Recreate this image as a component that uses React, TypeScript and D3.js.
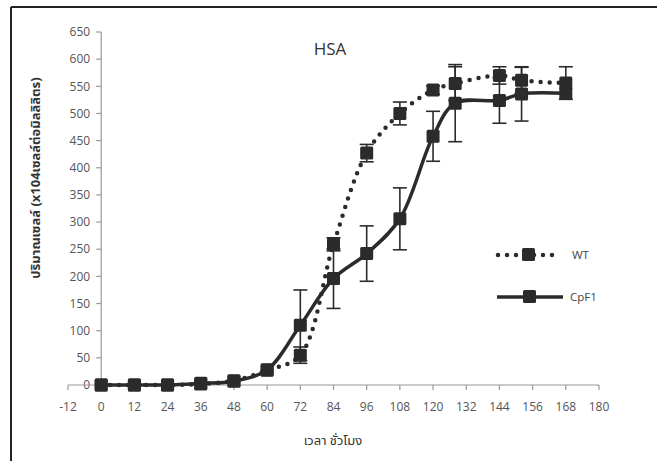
import React from "react";
import * as d3 from "d3";

const hours = [0, 12, 24, 36, 48, 60, 72, 84, 96, 108, 120, 128, 144, 152, 168];
const wtValues = [0, 0, 0, 2, 8, 27, 55, 259, 427, 500, 543, 555, 570, 561, 556];
const wtErrors = [0, 0, 0, 0, 0, 0, 15, 12, 16, 21, 8, 31, 16, 24, 30];
const cpf1Values = [0, 0, 0, 3, 7, 28, 110, 196, 242, 306, 458, 519, 524, 536, 537];
const cpf1Errors = [0, 0, 0, 0, 0, 0, 65, 55, 51, 57, 46, 71, 42, 50, 0];
const xTicks = [-12, 0, 12, 24, 36, 48, 60, 72, 84, 96, 108, 120, 132, 144, 156, 168, 180];
const yTicks = [0, 50, 100, 150, 200, 250, 300, 350, 400, 450, 500, 550, 600, 650];
const seriesNames = ["WT", "CpF1"];
const title = "HSA";
const xTitle = "เวลา ชั่วโมง";
const yTitle = "ปริมาณเซลล์ (x104เซลล์ต่อมิลลิลิตร)";

const W = 657;
const H = 461;
const MARK = "#2b2b2b";
const FONT = "'Open Sans', 'Noto Sans', 'Noto Sans Thai', Tahoma, sans-serif";

export default function App() {
  const x = d3.scaleLinear().domain([-12, 180]).range([68, 599]);
  const y = d3.scaleLinear().domain([0, 650]).range([385, 32]);
  const curve = d3.curveCatmullRom.alpha(0.5);
  const line = d3
    .line<number>()
    .x((_, i) => x(hours[i]))
    .y((d) => y(d))
    .curve(curve);

  const sq = 13;
  const cap = 7;

  const errorBars = (vals: number[], errs: number[], key: string) =>
    vals.map((v, i) =>
      errs[i] > 0 ? (
        <g key={key + i} stroke={MARK} strokeWidth={1.6}>
          <line x1={x(hours[i])} x2={x(hours[i])} y1={y(v - errs[i])} y2={y(v + errs[i])} />
          <line x1={x(hours[i]) - cap} x2={x(hours[i]) + cap} y1={y(v - errs[i])} y2={y(v - errs[i])} />
          <line x1={x(hours[i]) - cap} x2={x(hours[i]) + cap} y1={y(v + errs[i])} y2={y(v + errs[i])} />
        </g>
      ) : null
    );

  const markers = (vals: number[], key: string) =>
    vals.map((v, i) => (
      <rect
        key={key + i}
        x={x(hours[i]) - sq / 2}
        y={y(v) - sq / 2}
        width={sq}
        height={sq}
        rx={1.5}
        fill={MARK}
      />
    ));

  return (
    <svg width={W} height={H} style={{ display: "block", position: "absolute", left: 0, top: 0 }}>
      <rect x={0} y={0} width={W} height={H} fill="#ffffff" />
      {/* frame */}
      <line x1={11} x2={11} y1={7} y2={H} stroke="#222" strokeWidth={2} />
      <line x1={11} x2={W} y1={7} y2={7} stroke="#222" strokeWidth={2} />

      {/* title */}
      <text x={330} y={55} fontFamily={FONT} fontSize={17} fill="#333" textAnchor="middle">
        {title}
      </text>

      {/* y axis */}
      <line x1={x(0)} x2={x(0)} y1={y(650)} y2={y(0)} stroke="#999" strokeWidth={1.2} />
      {yTicks.map((t) => (
        <g key={"yt" + t}>
          <line x1={x(0) - 5} x2={x(0)} y1={y(t)} y2={y(t)} stroke="#999" strokeWidth={1.2} />
          <text
            x={x(0) - 11}
            y={y(t)}
            dy="0.35em"
            textAnchor="end"
            fontFamily={FONT}
            fontSize={12}
            fill="#555"
          >
            {t}
          </text>
        </g>
      ))}

      {/* x axis */}
      <line x1={x(-12)} x2={x(180)} y1={y(0)} y2={y(0)} stroke="#999" strokeWidth={1.2} />
      {xTicks.map((t) => (
        <g key={"xt" + t}>
          <line x1={x(t)} x2={x(t)} y1={y(0)} y2={y(0) + 5} stroke="#999" strokeWidth={1.2} />
          <text
            x={x(t)}
            y={y(0) + 26}
            textAnchor="middle"
            fontFamily={FONT}
            fontSize={12}
            fill="#555"
          >
            {t}
          </text>
        </g>
      ))}

      {/* axis titles */}
      <text x={333} y={445} textAnchor="middle" fontFamily={FONT} fontSize={13} fill="#333">
        {xTitle}
      </text>
      <text
        transform={`translate(40,178) rotate(-90)`}
        textAnchor="middle"
        fontFamily={FONT}
        fontSize={13}
        fontWeight="bold"
        fill="#333"
      >
        {yTitle}
      </text>

      {/* error bars */}
      {errorBars(wtValues, wtErrors, "we")}
      {errorBars(cpf1Values, cpf1Errors, "ce")}

      {/* lines */}
      <path
        d={line(cpf1Values) || ""}
        fill="none"
        stroke={MARK}
        strokeWidth={3.5}
        strokeLinejoin="round"
      />
      <path
        d={line(wtValues) || ""}
        fill="none"
        stroke={MARK}
        strokeWidth={4.5}
        strokeDasharray="0 9"
        strokeLinecap="round"
      />

      {/* markers */}
      {markers(cpf1Values, "cm")}
      {markers(wtValues, "wm")}

      {/* legend */}
      <g>
        <line x1={498} x2={556} y1={255} y2={255} stroke={MARK} strokeWidth={4.5} strokeDasharray="0 9" strokeLinecap="round" />
        <rect x={522} y={248} width={sq} height={sq} rx={1.5} fill={MARK} />
        <text x={572} y={255} dy="0.35em" fontFamily={FONT} fontSize={11.5} fill="#444">
          {seriesNames[0]}
        </text>
        <line x1={497} x2={563} y1={297} y2={297} stroke={MARK} strokeWidth={3.5} />
        <rect x={523} y={290} width={sq} height={sq} rx={1.5} fill={MARK} />
        <text x={570} y={297} dy="0.35em" fontFamily={FONT} fontSize={11.5} fill="#444">
          {seriesNames[1]}
        </text>
      </g>
    </svg>
  );
}
